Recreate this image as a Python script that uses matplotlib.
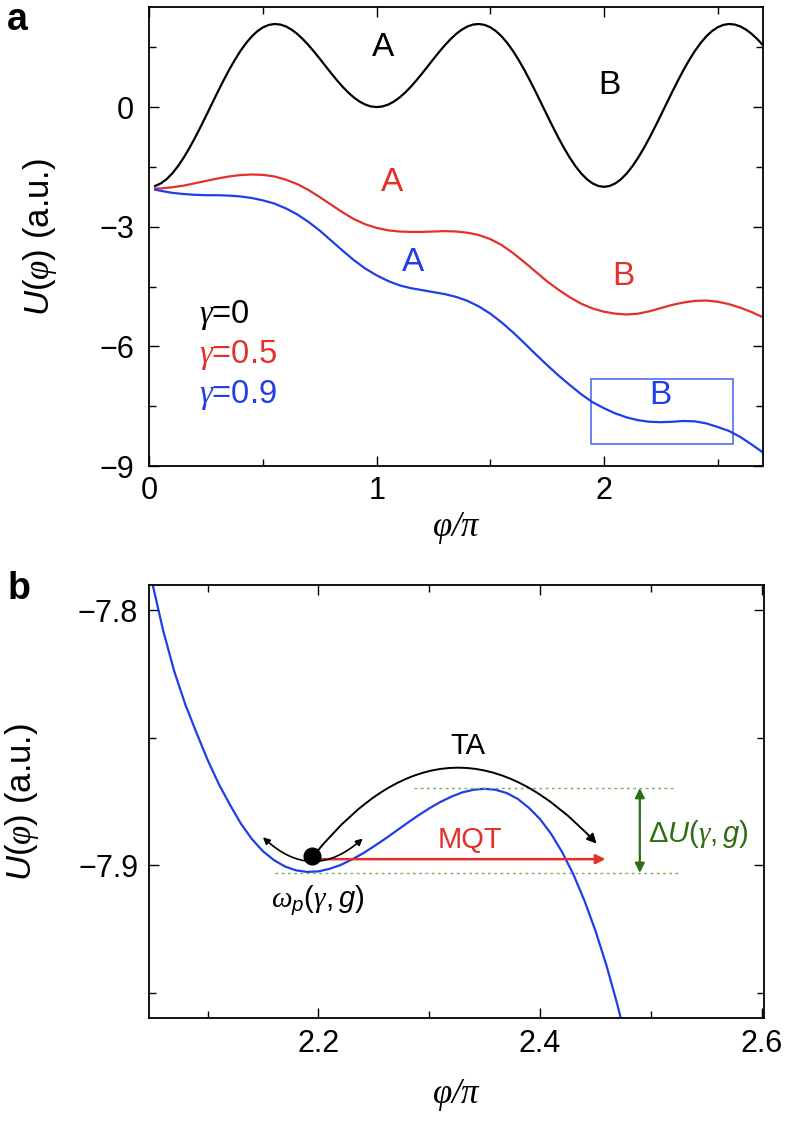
import matplotlib
matplotlib.use("Agg")
import matplotlib.pyplot as plt

plt.rcParams['font.family'] = ['Liberation Sans', 'DejaVu Sans']
plt.rcParams['mathtext.fontset'] = 'custom'
plt.rcParams['mathtext.rm'] = 'Liberation Sans'
plt.rcParams['mathtext.it'] = 'Liberation Sans:italic'
plt.rcParams['mathtext.sf'] = 'Liberation Serif:italic'

# ---- panel a: potential for three bias values (phi in units of pi) ----
phi_black = [0.025, 0.05, 0.075, 0.1, 0.125, 0.15, 0.175, 0.2, 0.225, 0.25,
             0.275, 0.3, 0.325, 0.35, 0.375, 0.4, 0.425, 0.45, 0.475, 0.5,
             0.525, 0.55, 0.575, 0.6, 0.625, 0.65, 0.675, 0.7, 0.725, 0.75,
             0.775, 0.8, 0.825, 0.85, 0.875, 0.9, 0.925, 0.95, 0.975, 1.0,
             1.025, 1.05, 1.075, 1.1, 1.125, 1.15, 1.175, 1.2, 1.225, 1.25,
             1.275, 1.3, 1.325, 1.35, 1.375, 1.4, 1.425, 1.45, 1.475, 1.5,
             1.525, 1.55, 1.575, 1.6, 1.625, 1.65, 1.675, 1.7, 1.725, 1.75,
             1.775, 1.8, 1.825, 1.85, 1.875, 1.9, 1.925, 1.95, 1.975, 2.0,
             2.025, 2.05, 2.075, 2.1, 2.125, 2.15, 2.175, 2.2, 2.225, 2.25,
             2.275, 2.3, 2.325, 2.35, 2.375, 2.4, 2.425, 2.45, 2.475, 2.5,
             2.525, 2.55, 2.575, 2.6, 2.625, 2.65, 2.675, 2.7]
u_g0 = [-1.978, -1.914, -1.809, -1.665, -1.485, -1.273, -1.034, -0.773, -0.495, -0.207,
        0.085, 0.376, 0.658, 0.928, 1.178, 1.405, 1.603, 1.770, 1.903, 2.000,
        2.060, 2.083, 2.070, 2.023, 1.943, 1.836, 1.703, 1.551, 1.384, 1.207,
        1.026, 0.846, 0.672, 0.509, 0.363, 0.238, 0.136, 0.061, 0.015, 0.000,
        0.015, 0.061, 0.136, 0.238, 0.363, 0.509, 0.672, 0.846, 1.026, 1.207,
        1.384, 1.551, 1.703, 1.836, 1.943, 2.023, 2.070, 2.083, 2.060, 2.000,
        1.903, 1.770, 1.603, 1.405, 1.178, 0.928, 0.658, 0.376, 0.085, -0.207,
        -0.495, -0.773, -1.034, -1.273, -1.485, -1.665, -1.809, -1.914, -1.978, -2.000,
        -1.978, -1.914, -1.809, -1.665, -1.485, -1.273, -1.034, -0.773, -0.495, -0.207,
        0.085, 0.376, 0.658, 0.928, 1.178, 1.405, 1.603, 1.770, 1.903, 2.000,
        2.060, 2.083, 2.070, 2.023, 1.943, 1.836, 1.703, 1.551]

phi_a = [0.025, 0.05, 0.1, 0.15, 0.2, 0.25, 0.3, 0.35, 0.4, 0.45, 0.5,
         0.55, 0.6, 0.65, 0.7, 0.75, 0.8, 0.85, 0.9, 0.95, 1.0,
         1.05, 1.1, 1.15, 1.2, 1.25, 1.3, 1.35, 1.4, 1.45, 1.5,
         1.55, 1.6, 1.65, 1.7, 1.75, 1.8, 1.85, 1.9, 1.95, 2.0,
         2.05, 2.1, 2.15, 2.2, 2.25, 2.3, 2.35, 2.4, 2.45, 2.5,
         2.55, 2.6, 2.65, 2.7]
u_g05 = [-2.04, -2.04, -2.01, -1.97, -1.91, -1.85, -1.79, -1.74, -1.705, -1.69, -1.70,
         -1.74, -1.82, -1.93, -2.08, -2.26, -2.45, -2.64, -2.81, -2.94, -3.03,
         -3.09, -3.12, -3.13, -3.13, -3.12, -3.11, -3.12, -3.15, -3.21, -3.31,
         -3.46, -3.66, -3.89, -4.13, -4.37, -4.58, -4.77, -4.93, -5.05, -5.13,
         -5.18, -5.20, -5.18, -5.12, -5.04, -4.96, -4.90, -4.86, -4.85, -4.88,
         -4.94, -5.03, -5.14, -5.27]
u_g09 = [-2.07, -2.10, -2.15, -2.18, -2.20, -2.21, -2.21, -2.22, -2.24, -2.28, -2.34,
         -2.42, -2.54, -2.69, -2.88, -3.10, -3.35, -3.60, -3.84, -4.05, -4.22,
         -4.36, -4.47, -4.54, -4.59, -4.64, -4.69, -4.76, -4.86, -5.00, -5.18,
         -5.40, -5.65, -5.92, -6.20, -6.47, -6.73, -6.97, -7.20, -7.40, -7.55,
         -7.68, -7.78, -7.85, -7.89, -7.90, -7.89, -7.87, -7.88, -7.93, -8.02,
         -8.12, -8.27, -8.46, -8.66]
gamma_labels = ['0', '0.5', '0.9']

# ---- panel b: zoom on the blue curve near phi = 2.2 pi ----
phi_b = [2.05, 2.06, 2.07, 2.08, 2.09, 2.10, 2.11, 2.12, 2.13, 2.14, 2.15, 2.16,
         2.17, 2.18, 2.19, 2.20, 2.21, 2.22, 2.23, 2.24, 2.25, 2.26, 2.27, 2.28,
         2.29, 2.30, 2.31, 2.32, 2.33, 2.34, 2.35, 2.36, 2.37, 2.38, 2.39, 2.40,
         2.41, 2.42, 2.43, 2.44, 2.45, 2.46, 2.47, 2.48]
u_b = [-7.789, -7.808, -7.824, -7.837, -7.848, -7.8586, -7.868, -7.8761, -7.8836,
       -7.8897, -7.8945, -7.8980, -7.9005, -7.9020, -7.9026, -7.9024, -7.9014,
       -7.8999, -7.8978, -7.8954, -7.8926, -7.8897, -7.8866, -7.8835, -7.8805,
       -7.8777, -7.8752, -7.8731, -7.8714, -7.8704, -7.8700, -7.8704, -7.8717,
       -7.8740, -7.8775, -7.8819, -7.8877, -7.8949, -7.9035, -7.9138, -7.9257,
       -7.9394, -7.9550, -7.9725]
u_min = -7.903
u_max = -7.8697

BLACK = '#000000'
RED = '#e3302a'
BLUE = '#1f3de8'
BOX = '#4f6ff0'
GREEN = '#2f6d12'
LGREEN = '#78b35a'

fig = plt.figure(figsize=(7.88, 11.32), dpi=100)
ax_a = fig.add_axes([0.1897, 0.5883, 0.7786, 0.4052])
ax_b = fig.add_axes([0.1895, 0.1004, 0.7800, 0.3831])

for ax in (ax_a, ax_b):
    for s in ax.spines.values():
        s.set_linewidth(1.3)
    ax.tick_params(which='both', direction='in', top=True, right=True,
                   width=1.0, labelsize=22)
    ax.tick_params(which='major', length=7)
    ax.tick_params(which='minor', length=5)

# panel a
ax_a.plot(phi_black, u_g0, color=BLACK, lw=1.6)
ax_a.plot(phi_a, u_g05, color=RED, lw=1.6)
ax_a.plot(phi_a, u_g09, color=BLUE, lw=1.6)
ax_a.set_xlim(0, 2.7)
ax_a.set_ylim(-9, 2.5)
ax_a.set_xticks([0, 1, 2])
ax_a.set_xticks([0.5, 1.5, 2.5], minor=True)
ax_a.set_yticks([-9, -6, -3, 0])
ax_a.set_yticks([-7.5, -4.5, -1.5, 1.5], minor=True)
ax_a.tick_params(axis='x', pad=7)
ax_a.tick_params(axis='y', pad=11)
ax_a.set_xlabel(r'$\mathsf{\varphi/\pi}$', fontsize=25, va='center')
ax_a.set_ylabel(r'$U(\mathsf{\varphi})$ (a.u.)', fontsize=25)
ax_a.xaxis.set_label_coords(0.5, -0.135)
ax_a.yaxis.set_label_coords(-0.147, 0.5)

ax_a.add_patch(plt.Rectangle((1.945, -8.44), 0.625, 1.61, fill=False,
                             edgecolor=BOX, lw=1.2))

for x, y, t, c in [(1.027, 1.50, 'A', BLACK), (2.025, 0.54, 'B', BLACK),
                   (1.068, -1.90, 'A', RED), (2.087, -4.26, 'B', RED),
                   (1.161, -3.90, 'A', BLUE), (2.247, -7.23, 'B', BLUE)]:
    ax_a.text(x, y, t, color=c, fontsize=24, ha='center', va='center')

for g, y, c in zip(gamma_labels, [-5.22, -6.22, -7.23], [BLACK, RED, BLUE]):
    ax_a.text(0.22, y, r'$\mathsf{\gamma}$=' + g, color=c, fontsize=23.5,
              ha='left', va='center')

# panel b
ax_b.plot(phi_b, u_b, color=BLUE, lw=1.6)
ax_b.set_xlim(2.0475, 2.602)
ax_b.set_ylim(-7.96, -7.79)
ax_b.set_xticks([2.2, 2.4, 2.6])
ax_b.set_xticks([2.1, 2.3, 2.5], minor=True)
ax_b.set_yticks([-7.9, -7.8])
ax_b.set_yticks([-7.95, -7.85], minor=True)
ax_b.tick_params(axis='x', pad=8)
ax_b.tick_params(axis='y', pad=8)
ax_b.set_xlabel(r'$\mathsf{\varphi/\pi}$', fontsize=25, va='center')
ax_b.set_ylabel(r'$U(\mathsf{\varphi})$ (a.u.)', fontsize=25)
ax_b.xaxis.set_label_coords(0.5, -0.177)
ax_b.yaxis.set_label_coords(-0.177, 0.5)

ax_b.plot([2.161, 2.526], [u_min, u_min], color=LGREEN, lw=1.0, ls=(0, (2, 2.5)))
ax_b.plot([2.286, 2.523], [u_max, u_max], color=LGREEN, lw=1.0, ls=(0, (2, 2.5)))
ax_b.annotate('', xy=(2.490, u_max), xytext=(2.490, u_min),
              arrowprops=dict(arrowstyle='<|-|>', color=GREEN, lw=1.6,
                              mutation_scale=14, shrinkA=0, shrinkB=0))
ax_b.text(2.497, -7.8876, r'$\Delta U(\mathsf{\gamma},g)$', color=GREEN,
          fontsize=21, ha='left', va='center')

# thermal activation arc
ax_b.annotate('', xy=(2.451, -7.8915), xytext=(2.198, -7.895),
              arrowprops=dict(arrowstyle='-|>', color=BLACK, lw=1.4,
                              mutation_scale=14, shrinkA=0, shrinkB=0,
                              connectionstyle='arc3,rad=-0.57'))
ax_b.text(2.335, -7.8532, 'TA', color=BLACK, fontsize=21, ha='center', va='center')

# tunnelling arrow
ax_b.annotate('', xy=(2.459, -7.8976), xytext=(2.194, -7.8976),
              arrowprops=dict(arrowstyle='-|>', color=RED, lw=1.8,
                              mutation_scale=14, shrinkA=0, shrinkB=0))
ax_b.text(2.337, -7.8902, 'MQT', color=RED, fontsize=21, ha='center', va='center')

# small oscillation arc around the well bottom
ax_b.annotate('', xy=(2.240, -7.8895), xytext=(2.150, -7.889),
              arrowprops=dict(arrowstyle='<|-|>', color=BLACK, lw=1.2,
                              mutation_scale=10, shrinkA=0, shrinkB=0,
                              connectionstyle='arc3,rad=0.46'))
ax_b.plot([2.194], [-7.8965], 'o', color=BLACK, ms=12, zorder=6)
ax_b.text(2.199, -7.9137, r'$\mathsf{\omega}_p(\mathsf{\gamma},g)$', color=BLACK,
          fontsize=21, ha='center', va='center')

fig.text(0.009, 0.998, 'a', fontsize=27, fontweight='bold', ha='left', va='top')
fig.text(0.009, 0.4955, 'b', fontsize=27, fontweight='bold', ha='left', va='top')

fig.savefig('out.png', dpi=100)
